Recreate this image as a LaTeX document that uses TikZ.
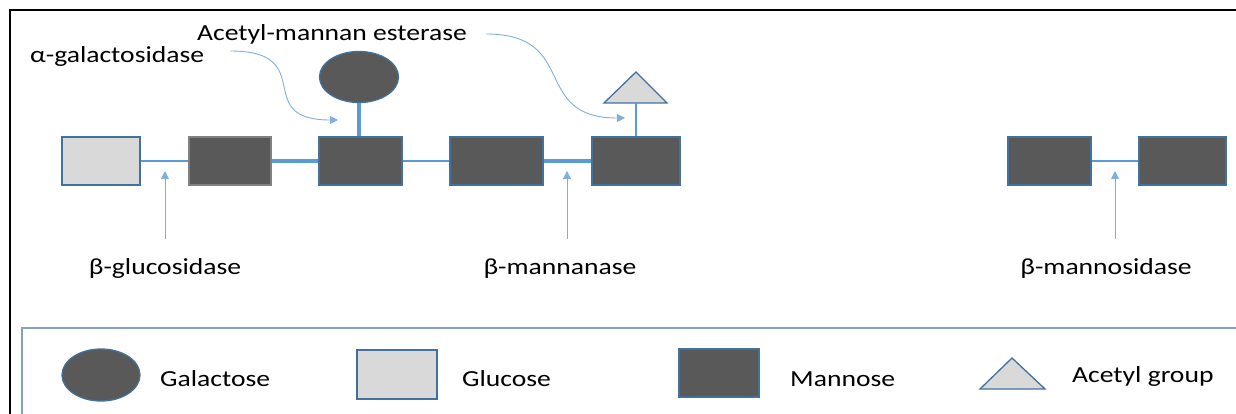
\documentclass[tikz,border=0pt]{standalone}
\usepackage{fontspec}
\setmainfont{Carlito}[FakeStretch=1.2]
\usetikzlibrary{arrows.meta,positioning,shapes.geometric}
\definecolor{manColor}{RGB}{89,89,89}
\definecolor{glcColor}{RGB}{217,217,217}
\definecolor{edgeColor}{RGB}{65,113,156}
\definecolor{linkColor}{RGB}{91,155,213}
\definecolor{cutColor}{RGB}{125,175,225}
\definecolor{legendColor}{RGB}{132,160,196}

\begin{document}
\begin{tikzpicture}[x=1pt,y=-1pt,
font=\fontsize{23}{27}\selectfont,
sugar/.style={
    draw=edgeColor, line width=1.3pt, minimum height=48pt, inner sep=0pt},
man/.style={sugar, fill=manColor},
glc/.style={sugar, fill=glcColor},
gal/.style={
    ellipse, draw=edgeColor, line width=1.3pt, fill=manColor, inner sep=0pt},
acetyl/.style={draw=edgeColor, line width=1.3pt, fill=glcColor, line join=miter},
link/.style={linkColor, line width=2.5pt},
thicklink/.style={linkColor, line width=3.5pt},
cut/.style={cutColor, line width=0.9pt, -{Triangle[length=8pt,width=8pt]}},
lbl/.style={anchor=base west, inner sep=0pt}
]

\useasboundingbox (0,0) rectangle (1236,414);
\clip (0,0) rectangle (1236,414);

% frame and legend box
\draw[line width=2.5pt] (10,10) rectangle (1260,440);
\draw[legendColor, line width=1.3pt] (22,328) rectangle (1260,440);

% chain
\node[glc, minimum width=78pt] (glc) at (101,161) {};
\node[man, draw=gray, minimum width=82pt] (man1) at (230,161) {};
\node[man, minimum width=83pt] (man2) at (360.5,161) {};
\node[man, minimum width=93pt] (man3) at (496.5,161) {};
\node[man, minimum width=88pt] (man4) at (636,161) {};
\node[man, minimum width=83pt] (man5) at (1049.5,161) {};
\node[man, minimum width=87pt] (man6) at (1182.5,161) {};

\node[gal, minimum width=79pt, minimum height=51pt] (gal) at (359,77) {};
\draw[acetyl] (604,103) -- (667,103) -- (636,72) -- cycle;
\coordinate (acBase) at (636,103);

\foreach \from/\to in {glc/man1, man2/man3, man5/man6}
    \draw[link] (\from) -- (\to);
\foreach \from/\to in {man1/man2, man3/man4}
    \draw[thicklink] (\from) -- (\to);

\draw[thicklink] (gal.south) -- (gal.south |- man2.north);
\draw[link] (acBase) -- (acBase |- man4.north);

% enzymes
\node[lbl] (galase) at (30,63) {α-galactosidase};
\node[lbl] (esterase) at (197,41) {Acetyl-mannan esterase};
\node[lbl, anchor=base] (glcase) at (165,274) {β-glucosidase};
\node[lbl, anchor=base] (mannanase) at (560,274) {β-mannanase};
\node[lbl, anchor=base] (mannosidase) at (1106,274) {β-mannosidase};

\coordinate (galaseTail) at (230,51);
\coordinate (galaseTip) at (338,120);
\coordinate (esteraseTail) at (486,34);
\coordinate (esteraseTip) at (625,118);
\draw[cut] (galaseTail) .. controls (320,51) and (250,120) .. (galaseTip);
\draw[cut] (esteraseTail) .. controls (580,34) and (530,118) .. (esteraseTip);

\foreach \n/\x in {glcase/165, mannanase/567, mannosidase/1115}{
    \coordinate (\n Tail) at (\x,239);
    \coordinate (\n Tip) at (\x,171);
    \draw[cut] (\n Tail) -- (\n Tip);
}

% legend
\node[gal, minimum width=78pt, minimum height=52pt] (legGal) at (101,375) {};
\node[lbl] (legGalText) at (160,386) {Galactose};
\node[glc, minimum width=80pt, minimum height=49pt] (legGlc) at (397,374.5) {};
\node[lbl] (legGlcText) at (462,386) {Glucose};
\node[man, minimum width=80pt] (legMan) at (719,373) {};
\node[lbl] (legManText) at (790,386) {Mannose};
\draw[acetyl] (980,389) -- (1045,389) -- (1012,358) -- cycle;
\node[lbl] (legAcText) at (1072,382) {Acetyl group};

\end{tikzpicture}
\end{document}
